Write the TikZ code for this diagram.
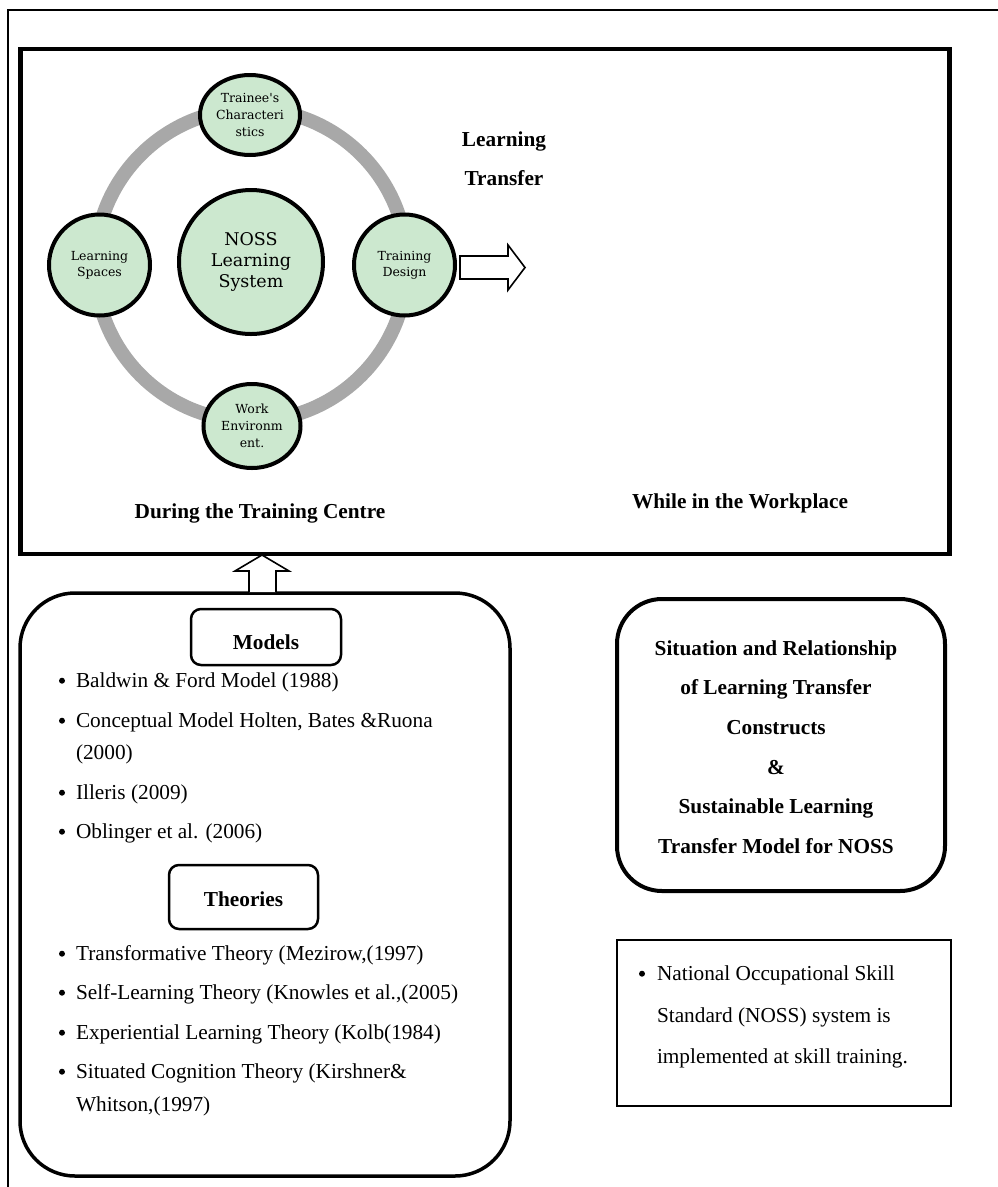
\documentclass[tikz,border=0pt]{standalone}
\usepackage{fontspec}
\setmainfont{Liberation Serif}
\newfontfamily\circfont{DejaVu Serif}
\usetikzlibrary{shapes.geometric}
\definecolor{ringgray}{HTML}{A8A8A8}
\definecolor{circgreen}{HTML}{CCE8CF}
\begin{document}
\begin{tikzpicture}[x=1pt,y=-1pt,
  every node/.style={inner sep=0pt, outer sep=0pt},
  body/.style={font=\fontsize{21.3}{25}\selectfont, anchor=base west},
  head/.style={font=\bfseries\fontsize{21.3}{25}\selectfont, anchor=base},
  circ/.style={draw, line width=4, fill=circgreen, circle, align=center,
               font=\circfont\fontsize{12.5}{16}\selectfont},
  ell/.style={draw, line width=4, fill=circgreen, ellipse, align=center,
               font=\circfont\fontsize{12.5}{17}\selectfont},
  hbox/.style={draw, line width=2.5, rounded corners=10},
  blockarrow/.style={draw, line width=1.6, fill=white, line join=miter}
]
\useasboundingbox (0,0) rectangle (998,1187);
% outer frame
\draw[line width=1.3] (998,10) -- (8,10) -- (8,1187);
% top box
\node[draw, line width=4.5, minimum width=929, minimum height=505] (top) at (485,301.5) {};
% ring and circles
\coordinate (rc) at (251,265);
\draw[line width=14, ringgray] (rc) circle (156);
\node[circ, minimum size=144, font=\circfont\fontsize{17.5}{21}\selectfont] (noss) at (251,262) {NOSS\\Learning\\System};
\node[ell, minimum width=100, minimum height=80] (tc) at (250,115) {Trainee's\\Characteri\\stics};
\node[circ, minimum size=101] (ls) at (99.5,265) {Learning\\Spaces};
\node[circ, minimum size=101] (td) at (404.5,265) {Training\\Design};
\node[ell, minimum width=97, minimum height=84, font=\circfont\fontsize{12.5}{17}\selectfont] (we) at (252,426) {Work\\Environm\\ent.};
% right block arrow
\draw[blockarrow] (460,256) -- (508,256) -- (508,245) -- (525,267.5) -- (508,290) -- (508,279) -- (460,279) -- cycle;
% texts in top box
\node[head] (lt1) at (504,146) {Learning};
\node[head] (lt2) at (504,185) {Transfer};
\node[head] (dtc) at (260,518) {During the Training Centre};
\node[head] (wiw) at (740,508) {While in the Workplace};
% lower-left box
\node[draw, line width=3.5, rounded corners=55, minimum width=490, minimum height=583] (low) at (265,884.5) {};
% up block arrow
\draw[blockarrow] (249,592) -- (249,571) -- (235,571) -- (262,555) -- (289,571) -- (276,571) -- (276,592);
% Models
\node[hbox, minimum width=150, minimum height=56] (models) at (266,637) {};
\node[head] at (266,649) {Models};
\foreach \y/\t in {687/{Baldwin \& Ford Model (1988)}, 727/{Conceptual Model Holten, Bates \&Ruona}, 799/{Illeris (2009)}, 838/{Oblinger et al. (2006)}, 960/{Transformative Theory (Mezirow,(1997)}, 999/{Self-Learning Theory (Knowles et al.,(2005)}, 1039/{Experiential Learning Theory (Kolb(1984)}, 1078/{Situated Cognition Theory (Kirshner\&}}{
  \fill (62,\y-6.3) circle (3);
  \node[body] at (76,\y) {\t};
}
\node[body] at (76,759) {(2000)};
\node[body] at (76,1111) {Whitson,(1997)};
% Theories
\node[hbox, minimum width=149, minimum height=64] (theories) at (243.5,897) {};
\node[head] at (243.5,906) {Theories};
% right rounded box
\node[draw, line width=4, rounded corners=45, minimum width=328, minimum height=292] (sit) at (781,745) {};
\foreach \y/\t in {655/{Situation and Relationship}, 694.6/{of Learning Transfer}, 734/{Constructs}, 774/{\&}, 813/{Sustainable Learning}, 853/{Transfer Model for NOSS}}{
  \node[head] at (776,\y) {\t};
}
% bottom-right rectangle
\node[draw, line width=2, minimum width=334, minimum height=166] (noss2) at (784,1023) {};
\fill (642,980-6.3) circle (3);
\node[body] at (657,980) {National Occupational Skill};
\node[body] at (657,1022) {Standard (NOSS) system is};
\node[body] at (657,1063) {implemented at skill training.};
\end{tikzpicture}
\end{document}
